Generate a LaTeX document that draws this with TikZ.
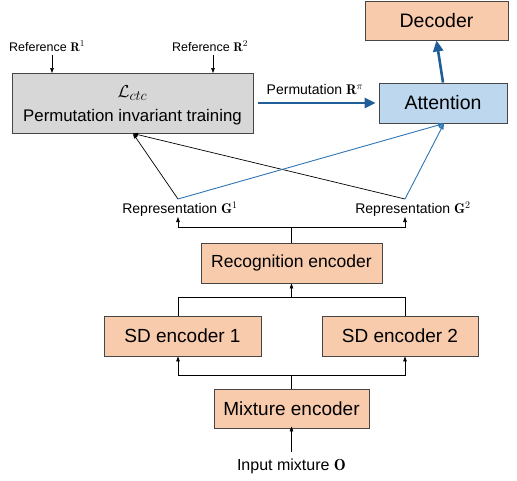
\documentclass[tikz,border=0pt]{standalone}
\usepackage[no-math]{fontspec}
\setmainfont{Liberation Sans}
\usetikzlibrary{arrows.meta}
\newcommand{\bmr}[1]{{\fontfamily{lmr}\bfseries #1}}
\definecolor{peach}{RGB}{248,203,173}
\definecolor{lblue}{RGB}{189,215,238}
\definecolor{lgray}{RGB}{215,215,215}
\definecolor{bord}{RGB}{70,70,70}
\definecolor{dblue}{RGB}{31,94,150}
\definecolor{tblue}{RGB}{46,117,182}
\tikzset{
  box/.style={draw=bord, line width=0.9pt, inner sep=0pt, anchor=center},
  lbl/.style={inner sep=0pt, anchor=center},
  conn/.style={line width=0.7pt, black},
  carr/.style={conn, -{Triangle[length=5pt,width=3.6pt]}},
  bigarr/.style={dblue, line width=2.6pt, -{Triangle[length=11pt,width=10pt]}},
  thinblue/.style={tblue, line width=0.9pt, -{Triangle[length=6pt,width=4.5pt]}},
  fs/.style={font=\fontsize{#1}{#1}\selectfont}
}
\begin{document}
\begin{tikzpicture}[x=1pt,y=-1pt]
\useasboundingbox (0,0) rectangle (517,480);
% boxes
\node[box, fill=peach, minimum width=143pt, minimum height=39pt, fs=19.5] (dec) at (436.5,20.5) {Decoder};
\node[box, fill=lblue, minimum width=128pt, minimum height=40pt, fs=19.5] (att) at (443,103) {Attention};
\node[box, fill=lgray, minimum width=241pt, minimum height=60pt] (pit) at (132.5,103) {};
\node[lbl, fs=19] (lctc) at (132.5,93) {$\mathcal{L}_{ctc}$};
\node[lbl, fs=16.8] (pittxt) at (132.5,117) {Permutation invariant training};
\node[box, fill=peach, minimum width=181pt, minimum height=40pt, fs=17.5] (rec) at (291.5,263) {Recognition encoder};
\node[box, fill=peach, minimum width=157pt, minimum height=40pt, fs=19] (sd1) at (182.5,336) {SD encoder 1};
\node[box, fill=peach, minimum width=156pt, minimum height=40pt, fs=19] (sd2) at (400,336) {SD encoder 2};
\node[box, fill=peach, minimum width=155pt, minimum height=39pt, fs=19] (mix) at (291.5,408.5) {Mixture encoder};
% labels
\node[lbl, fs=12.5] (r1) at (47,46) {Reference \bmr{R}$^1$};
\node[lbl, fs=12.5] (r2) at (210,46) {Reference \bmr{R}$^2$};
\node[lbl, fs=14] (perm) at (315,90) {Permutation \bmr{R}$^{\pi}$};
\node[lbl, fs=14] (g1) at (180,209) {Representation \bmr{G}$^1$};
\node[lbl, fs=14] (g2) at (413,209) {Representation \bmr{G}$^2$};
\node[lbl, fs=16] (inp) at (291.5,466) {Input mixture \bmr{O}};
% coordinates
\coordinate (r1s) at (52,55);
\coordinate (r1e) at (52,73);
\coordinate (r2s) at (213,55);
\coordinate (r2e) at (213,73);
\coordinate (g1t) at (178,199);
\coordinate (g2t) at (405,199);
\coordinate (g1b) at (178,217);
\coordinate (g2b) at (405,217);
\coordinate (pitin) at (133,133.5);
\coordinate (attin) at (444,123.5);
\coordinate (topbar) at (291.5,227);
\coordinate (midbar) at (291.5,297);
\coordinate (botbar) at (291.5,375);
\coordinate (inps) at (291.5,452);
% reference arrows
\draw[carr] (r1s) -- (r1e);
\draw[carr] (r2s) -- (r2e);
% permutation and decoder arrows
\draw[bigarr] (pit.east) ++(5,0) -- ([xshift=-3pt]att.west);
\draw[bigarr] (att.north) -- (dec.south);
% crossing lines
\draw[carr] (g1t) -- (pitin);
\draw[carr] (g2t) -- (pitin);
\draw[thinblue] (g1t) -- (attin);
\draw[thinblue] (g2t) -- (attin);
% top bracket
\draw[conn] (rec.north) -- (topbar);
\draw[carr] (topbar) -| (g1b);
\draw[carr] (topbar) -| (g2b);
% middle bracket
\draw[conn] ([xshift=-4.5pt]sd1.north) |- (midbar);
\draw[conn] ([xshift=5pt]sd2.north) |- (midbar);
\draw[carr] (midbar) -- (rec.south);
% bottom bracket
\draw[conn] (mix.north) -- (botbar);
\draw[carr] (botbar) -| ([xshift=-4.5pt]sd1.south);
\draw[carr] (botbar) -| ([xshift=5pt]sd2.south);
% input
\draw[carr] (inps) -- ([yshift=2pt]mix.south);
\end{tikzpicture}
\end{document}
